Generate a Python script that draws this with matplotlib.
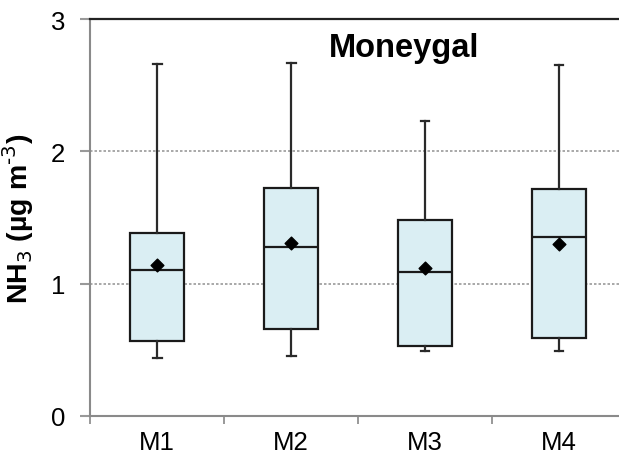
import matplotlib
matplotlib.use("Agg")
import matplotlib.pyplot as plt

plt.rcParams['font.family'] = ['Liberation Sans', 'DejaVu Sans']

# Box-plot statistics per sampler (NH3, µg m-3)
categories = ["M1", "M2", "M3", "M4"]
whisker_low = [0.44, 0.456, 0.489, 0.489]
q1 = [0.565, 0.655, 0.53, 0.587]
median = [1.10, 1.28, 1.086, 1.35]
q3 = [1.38, 1.72, 1.48, 1.716]
whisker_high = [2.66, 2.67, 2.23, 2.65]
mean = [1.14, 1.31, 1.12, 1.30]

fig = plt.figure(figsize=(6.19, 4.64), dpi=100)
ax = fig.add_axes([90.3 / 619, 47 / 464, (626 - 90.3) / 619, (417 - 20) / 464])

stats = []
for i, name in enumerate(categories):
    stats.append(dict(label=name, whislo=whisker_low[i], q1=q1[i], med=median[i],
                      q3=q3[i], whishi=whisker_high[i], mean=mean[i], fliers=[]))

positions = list(range(1, len(categories) + 1))
ax.bxp(stats, positions=positions, widths=0.405, patch_artist=True,
       showmeans=False, showfliers=False, capwidths=0.065,
       boxprops=dict(facecolor="#daeef3", edgecolor="#1a1a1a", linewidth=1.6),
       medianprops=dict(color="#1a1a1a", linewidth=1.6),
       whiskerprops=dict(color="#2a2a2a", linewidth=1.6),
       capprops=dict(color="#2a2a2a", linewidth=1.6), zorder=3)
ax.scatter(positions, mean, marker="D", s=42, color="black", zorder=4)

ax.set_xlim(0.5, 4.5)
ax.set_ylim(0, 3)
ax.set_yticks([0, 1, 2, 3])
ax.set_yticklabels(["0", "1", "2", "3"], fontsize=18.5)
ax.set_xticks(positions)
ax.set_xticklabels(categories, fontsize=18.5)
ax.set_xticks([0.5, 1.5, 2.5, 3.5, 4.5], minor=True)
ax.tick_params(axis="x", which="major", length=0, pad=10)
ax.tick_params(axis="x", which="minor", length=6, width=1.2, color="#888888")
ax.tick_params(axis="y", which="major", length=7, width=1.5, color="#999999", pad=11)

for y in [1, 2]:
    ax.axhline(y, color="#9a9a9a", linestyle=(0, (1.5, 1.2)), linewidth=1.2, zorder=1)

ax.spines["right"].set_visible(False)
ax.spines["top"].set_color("#222222")
ax.spines["top"].set_linewidth(1.6)
ax.spines["left"].set_color("#8a8a8a")
ax.spines["left"].set_linewidth(1.5)
ax.spines["bottom"].set_color("#8a8a8a")
ax.spines["bottom"].set_linewidth(1.5)

ax.set_ylabel(r"NH$_3$ (µg m$^{\text{-}3}$)", fontsize=20.5, fontweight="bold", labelpad=11)
ax.text(0.586, 0.928, "Moneygal", transform=ax.transAxes, ha="center", va="center",
        fontsize=23.5, fontweight="bold")

fig.savefig("out.png", dpi=100)
